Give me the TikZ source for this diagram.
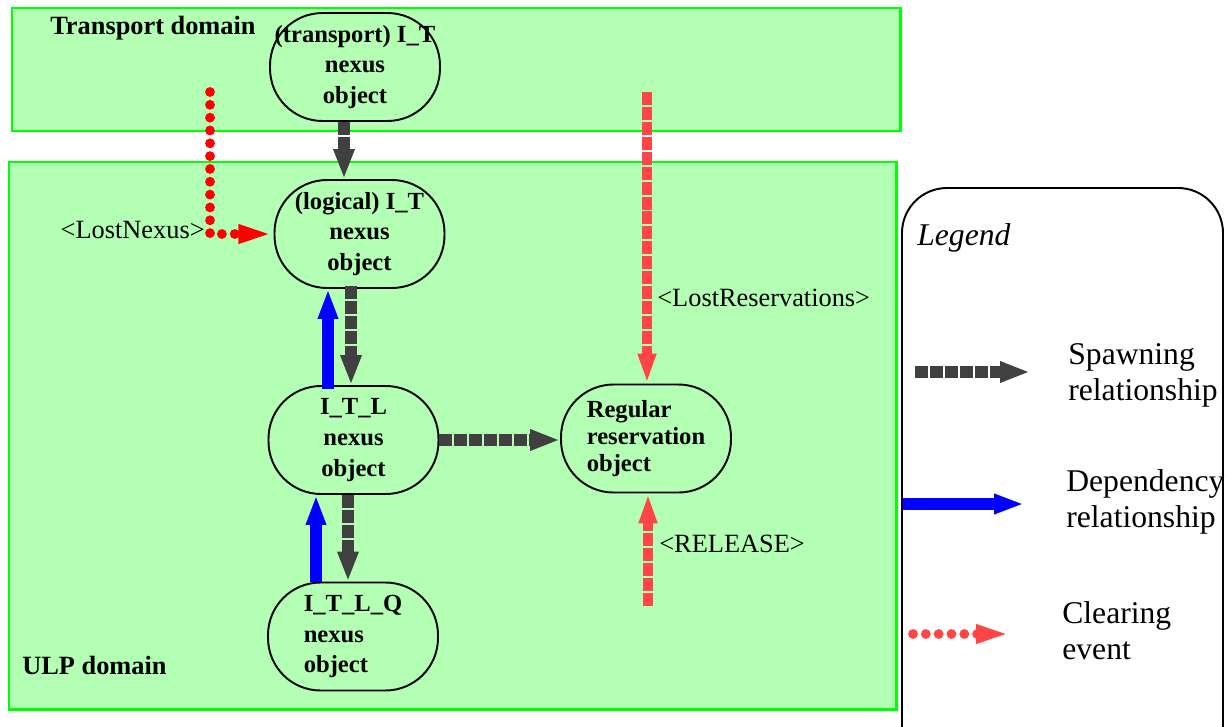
\documentclass[tikz,border=0pt]{standalone}
\usepackage{fontspec}
\setmainfont{Liberation Serif}
\usetikzlibrary{arrows.meta,calc}

\definecolor{domaingreen}{HTML}{B3FFB3}
\definecolor{domainedge}{HTML}{00FF00}
\definecolor{spawngray}{HTML}{404040}
\definecolor{clearred}{HTML}{FF4545}

\begin{document}
\begin{tikzpicture}[x=0.02cm, y=0.02cm,
  domainbox/.style={fill=domaingreen, draw=domainedge, line width=1.7pt},
  nexusobj/.style={draw, line width=1.1pt, rounded corners=1.05cm, minimum width=3.4cm, minimum height=2.16cm, align=center, inner sep=0pt, font=\fontsize{14}{17.5}\selectfont\bfseries},
  spawn/.style={draw=spawngray, line width=6.5pt, dash pattern=on 7.4pt off 1.1pt, -{Triangle[length=17pt,width=11pt]}},
  depend/.style={draw=blue, line width=6.5pt, -{Triangle[length=17pt,width=10.5pt]}},
  clearing/.style={draw=clearred, line width=6.2pt, dash pattern=on 7.4pt off 1.1pt, -{Triangle[length=17pt,width=9.5pt]}},
  lostdots/.style={draw=red, line width=5.6pt, line cap=round, dash pattern=on 0pt off 7.3pt, -{Triangle[length=20pt,width=9.5pt]}},
  evlabel/.style={font=\fontsize{15}{18}\selectfont, inner sep=0pt},
  domlabel/.style={font=\fontsize{15}{18}\selectfont\bfseries, anchor=west, inner sep=0pt},
  legtext/.style={font=\fontsize{18}{20.5}\selectfont, align=left, anchor=west, inner sep=0pt}
]
\clip (0,0) rectangle (1231,-727);
\draw [domainbox] (12,-8) rectangle (900,-131);
\draw [domainbox] (9,-162) rectangle (896,-709);
\node [domlabel] (tdom) at (50,-28) {Transport domain};
\node [domlabel] (udom) at (22,-665) {ULP domain};
\draw [line width=1.1pt, rounded corners=0.9cm, fill=white] (902,-780) rectangle (1223,-188);
\node [legtext, font=\fontsize{18}{20.5}\selectfont\itshape] (legtitle) at (917,-238) {Legend};

\node [nexusobj] (tr) at (355,-67) {(transport) I\_T\\nexus\\object};
\node [nexusobj] (lg) at (359.5,-234) {(logical) I\_T\\nexus\\object};
\node [nexusobj] (itl) at (353.5,-440) {I\_T\_L\\nexus\\object};
\node [nexusobj, align=left] (itlq) at (353,-636.5) {I\_T\_L\_Q\\nexus\\object};
\node [nexusobj, align=left, font=\fontsize{14}{15.5}\selectfont\bfseries] (reg) at (646,-438.5) {Regular\\reservation\\object};

\draw [spawn] ($(tr.south)+(-11,0)$) -- ($(lg.north)+(-15.5,0)$);
\draw [spawn] ($(lg.south)+(-8.5,3)$) -- ($(itl.north)+(-2.5,0)$);
\draw [depend] ($(itl.north)+(-25.5,-4)$) -- ($(lg.south)+(-31.5,0)$);
\draw [spawn] ($(itl.south)+(-5.5,0)$) -- ($(itlq.north)+(-5,0)$);
\draw [depend] ($(itlq.north)+(-37,0)$) -- ($(itl.south)+(-37.5,0)$);
\draw [spawn] (itl.east) -- (itl.east -| reg.west);

\coordinate (lntop) at (210,-92);
\draw [lostdots] (lntop) |- (lg.west);
\node [evlabel, anchor=east] (lnlabel) at (205,-230) {<LostNexus>};
\coordinate (lrtop) at (647,-92);
\draw [clearing] (lrtop) -- (lrtop |- reg.north);
\node [evlabel, anchor=west] (lrlabel) at (657,-298) {<LostReservations>};
\coordinate (reltail) at (648,-606);
\draw [clearing] (reltail) -- (reltail |- reg.south);
\node [evlabel, anchor=west] (rellabel) at (659,-544) {<RELEASE>};

\coordinate (spS) at (915,-372);
\coordinate (spE) at (1030,-372);
\draw [spawn] (spS) -- (spE);
\node [legtext] (splabel) at (1068,-375) {Spawning\\relationship};
\coordinate (dpS) at (903,-504);
\coordinate (dpE) at (1024,-504);
\draw [depend] (dpS) -- (dpE);
\node [legtext] (dplabel) at (1066,-502) {Dependency\\relationship};
\coordinate (clS) at (913,-634);
\coordinate (clE) at (1011,-634);
\draw [lostdots, draw=clearred] (clS) -- (clE);
\node [legtext] (cllabel) at (1062,-631) {Clearing\\event};
\end{tikzpicture}
\end{document}
